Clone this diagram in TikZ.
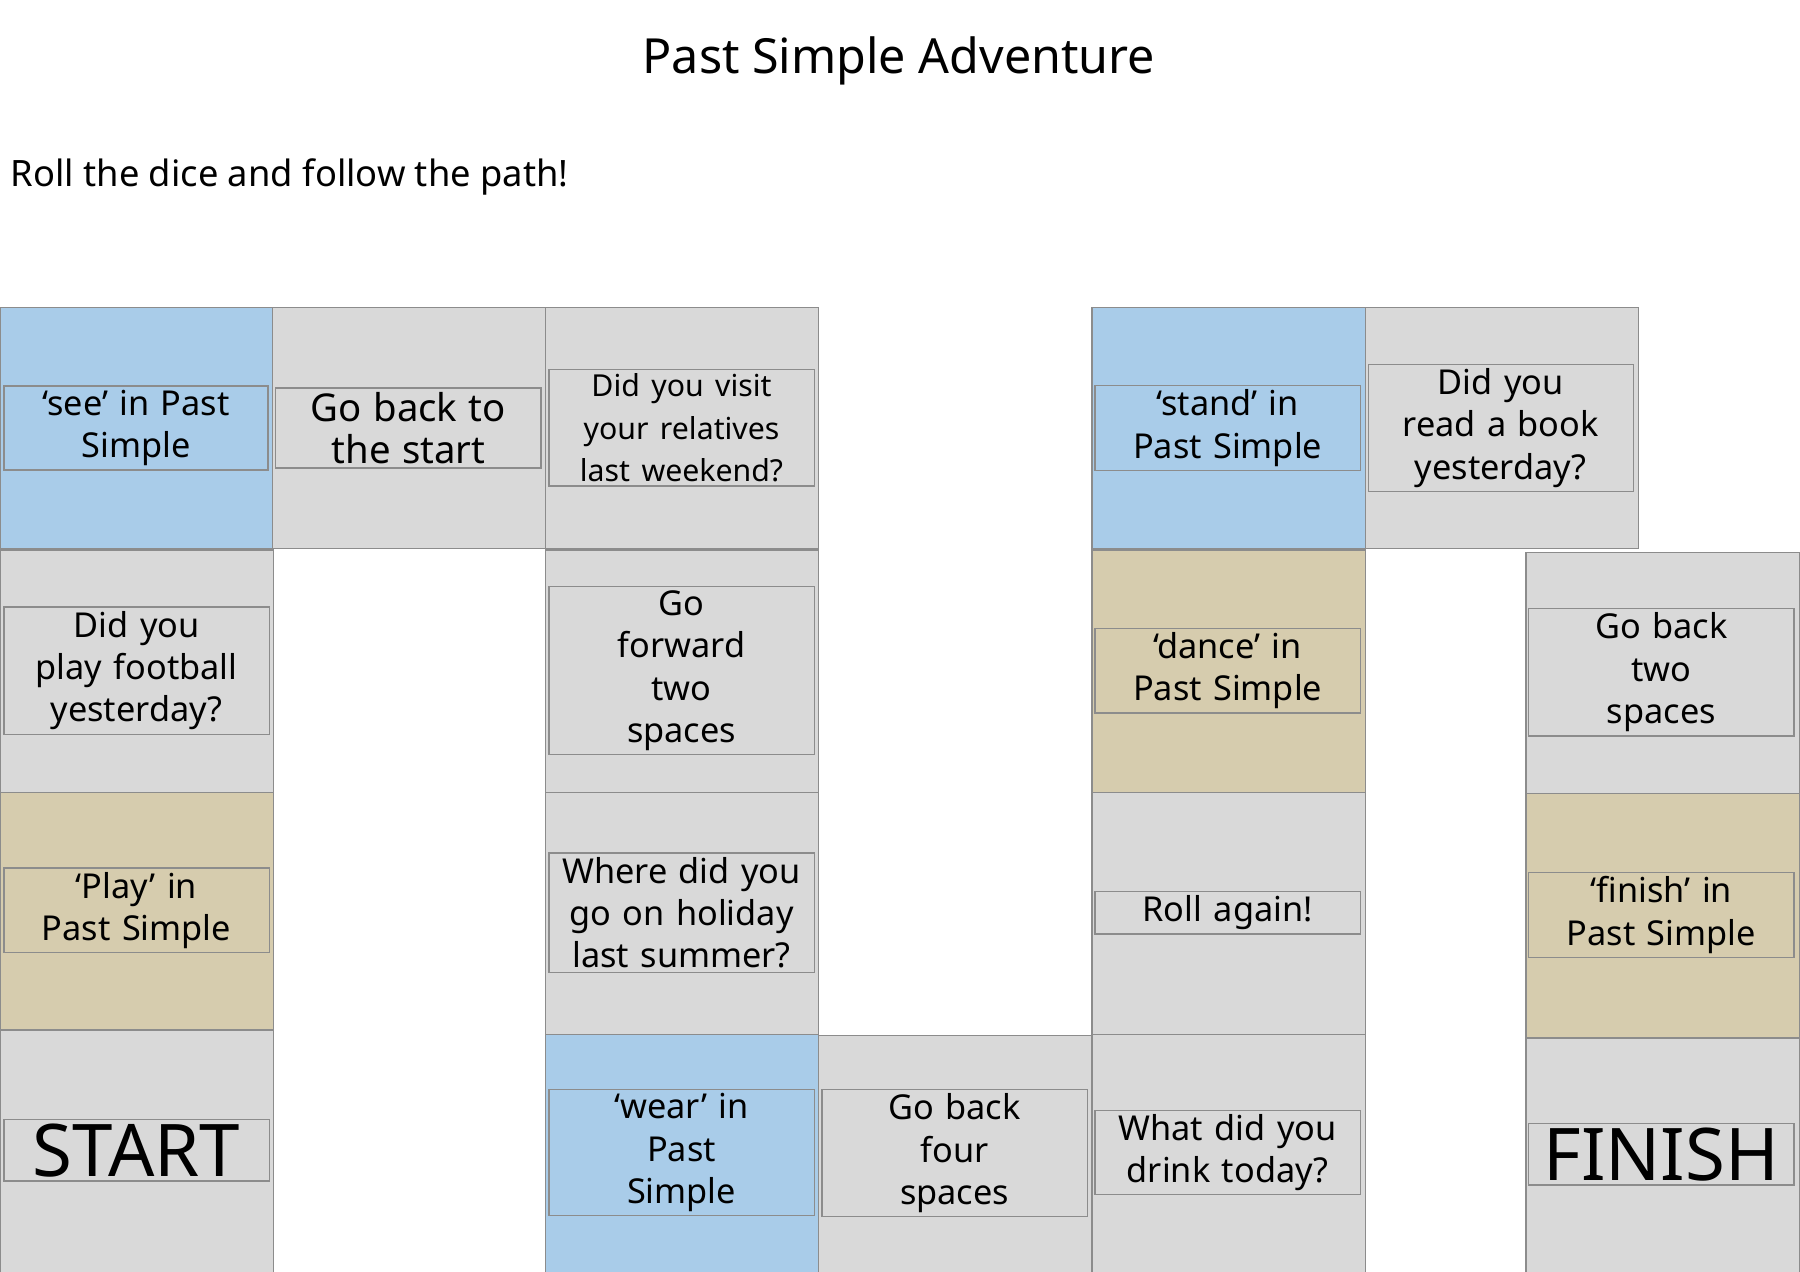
\documentclass[tikz,border=0pt]{standalone}
\usepackage{fontspec}
\setmainfont{Noto Sans}
\definecolor{skyblue}{HTML}{A9CCE9}
\definecolor{lightgray}{HTML}{D9D9D9}
\definecolor{sand}{HTML}{D6CCAE}
\tikzset{
  cell/.style={draw=black!45, line width=0.6pt, align=center, inner sep=2pt, font=\fontsize{17}{21}\selectfont},
}
% \cell{name}{x0}{y0}{x1}{y1}{colour}{text}
\newcommand{\cell}[7]{%
  \filldraw[draw=black!45, line width=0.6pt, fill=#6] (#2*0.02, -#3*0.02) rectangle (#4*0.02, -#5*0.02);
  \node[cell, text width={(#4-#2)*0.02cm-8pt}] (#1) at ({(#2+#4)*0.01}, {-(#3+#5)*0.01}) {#7};}
\begin{document}
\begin{tikzpicture}
  \useasboundingbox (0,0) rectangle (31.36,-22.16);
  \node[font=\fontsize{24}{28}\selectfont\bfseries] (title) at (15.66,-1.06) {Past Simple Adventure};
  \node[font=\fontsize{18}{22}\selectfont\bfseries, anchor=west, inner sep=0pt] (sub) at (0.18,-3.08) {Roll the dice and follow the path!};

  \cell{see}{0}{268}{237}{478}{skyblue}{‘see’ in Past Simple}
  \cell{backstart}{237}{268}{475}{478}{lightgray}{\fontsize{19}{23}\selectfont\bfseries Go back to the start}
  \cell{visit}{475}{268}{713}{478}{lightgray}{\fontsize{15}{19}\selectfont Did you visit your relatives last weekend?}
  \cell{stand}{951}{268}{1189}{478}{skyblue}{‘stand’ in Past Simple}
  \cell{read}{1189}{268}{1427}{478}{lightgray}{Did you read a book yesterday?}

  \cell{football}{0}{479}{238}{690}{lightgray}{Did you play football yesterday?}
  \cell{forward}{475}{479}{713}{690}{lightgray}{\bfseries Go\\forward\\two\\spaces}
  \cell{dance}{951}{479}{1189}{690}{sand}{‘dance’ in Past Simple}
  \cell{backtwo}{1329}{481}{1567}{691}{lightgray}{\bfseries Go back\\two\\spaces}

  \cell{play}{0}{690}{238}{897}{sand}{‘Play’ in Past Simple}
  \cell{holiday}{475}{690}{713}{901}{lightgray}{Where did you go on holiday last summer?}
  \cell{again}{951}{690}{1189}{901}{lightgray}{\bfseries Roll again!}
  \cell{finish}{1329}{691}{1567}{904}{sand}{‘finish’ in Past Simple}

  \cell{start}{0}{897}{238}{1108}{lightgray}{\fontsize{36}{40}\selectfont\bfseries START}
  \cell{wear}{475}{901}{713}{1108}{skyblue}{‘wear’ in\\Past\\Simple}
  \cell{backfour}{713}{902}{951}{1108}{lightgray}{\bfseries Go back\\four\\spaces}
  \cell{drink}{951}{901}{1189}{1108}{lightgray}{What did you drink today?}
  \cell{end}{1329}{904}{1567}{1108}{lightgray}{\fontsize{36}{40}\selectfont\bfseries FINISH}
\end{tikzpicture}
\end{document}
